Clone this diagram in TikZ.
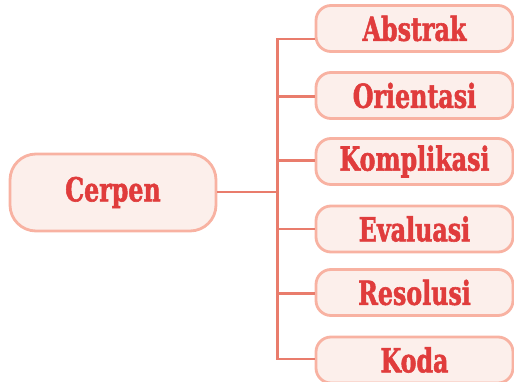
\documentclass[tikz,border=0pt]{standalone}
\usepackage{fontspec}
\usepackage{graphicx}
\newfontfamily\boxfont{DejaVu Serif Condensed}[BoldFont={* Bold},BoldFeatures={FakeBold=1.8}]
\definecolor{txtred}{HTML}{E03C3C}
\definecolor{boxfill}{HTML}{FCEFEB}
\definecolor{boxline}{HTML}{F8B2A2}
\definecolor{conn}{HTML}{E97C6C}
\newcommand{\lbl}[1]{\scalebox{0.8}[1]{#1}}
\begin{document}
\begin{tikzpicture}[x=1pt,y=-1pt,
  base/.style={draw=boxline, line width=2.8pt, fill=boxfill, text=txtred,
    font=\boxfont\bfseries\fontsize{33}{36}\selectfont, inner sep=0pt},
  rootbox/.style={base, rounded corners=26pt, minimum width=206pt, minimum height=77pt},
  leafbox/.style={base, rounded corners=15pt, minimum width=197pt, minimum height=46pt},
  link/.style={draw=conn, line width=2.8pt}]
\useasboundingbox (0,0) rectangle (514,382);
\node[rootbox] (root) at (113,192.5) {\lbl{Cerpen}};
\node[leafbox] (n1) at (414.5,28.5) {\lbl{Abstrak}};
\node[leafbox] (n2) at (414.5,95.5) {\lbl{Orientasi}};
\node[leafbox] (n3) at (414.5,161.5) {\lbl{Komplikasi}};
\node[leafbox] (n4) at (414.5,229) {\lbl{Evaluasi}};
\node[leafbox] (n5) at (414.5,292.5) {\lbl{Resolusi}};
\node[leafbox] (n6) at (414.5,360) {\lbl{Koda}};
\coordinate (t1) at (277.5,39);
\coordinate (t6) at (277.5,359);
\coordinate (tm) at (277.5,192);
\begin{scope}[on background layer/.try]
\draw[link] (root.east |- tm) -- (tm);
\draw[link,line cap=rect] (t1) -- (t6);
\draw[link] (t1) -- (n1.west |- t1);
\draw[link] (277.5,96.5) -- (n2.west |- 0,96.5);
\draw[link] (277.5,160.5) -- (n3.west |- 0,160.5);
\draw[link] (277.5,229) -- (n4.west |- 0,229);
\draw[link] (277.5,293.5) -- (n5.west |- 0,293.5);
\draw[link] (t6) -- (n6.west |- t6);
\end{scope}
\end{tikzpicture}
\end{document}
